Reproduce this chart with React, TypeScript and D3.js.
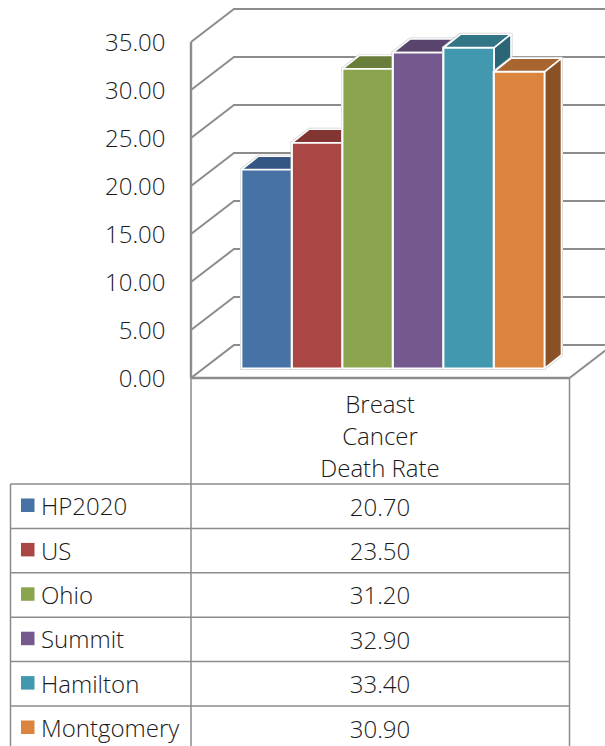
import React from 'react';
import * as d3 from 'd3';

const seriesNames = ['HP2020', 'US', 'Ohio', 'Summit', 'Hamilton', 'Montgomery'];
const seriesValues = [20.7, 23.5, 31.2, 32.9, 33.4, 30.9];
const frontColors = ['#4672a6', '#aa4643', '#8aa54e', '#73598e', '#4198af', '#db843d'];
const topColors = ['#355682', '#823533', '#6a7e3b', '#58446d', '#327586', '#a86530'];
const sideColors = ['#2e4b72', '#722e2c', '#5d6e34', '#4d3b5f', '#2b6676', '#8a5127'];
const yTicks = [0, 5, 10, 15, 20, 25, 30, 35];
const categoryLines = ['Breast', 'Cancer', 'Death Rate'];

const W = 605;
const H = 746;
const FONT = '"Open Sans", Lato, sans-serif';
const GRID = '#8c8c8c';
const TEXT = '#1a1a1a';
const FONT_SIZE = 24;

// front edge of the wall, the back wall sits up and to the right of it
const y = d3.scaleLinear().domain([0, 35]).range([378, 42]);
const wallDx = 43;
const wallDy = -33;
const frontLeft = 191;
const frontRight = 569.5;

// bars stand on the floor, a bit behind the front edge
const barBase = -9.6;
const barDx = 17;
const barDy = -13.5;
const x = d3.scaleBand().domain(seriesNames).range([241.5, 544.5]).padding(0);

const rowY = d3.scaleLinear().domain([0, 1]).range([484, 528.4]);

const poly = d3.line();

const App = () => {
  const bw = x.bandwidth();
  return (
    <svg width={W} height={H} style={{ position: 'absolute', left: 0, top: 0 }} fontFamily={FONT}>
      <rect width={W} height={H} fill="#fff" />

      {/* walls */}
      {yTicks.map(t => (
        <g key={t} fill="none" stroke={GRID} strokeWidth={t === 0 ? 2.2 : 2}>
          <path d={poly([[frontLeft, y(t)], [frontLeft + wallDx, y(t) + wallDy], [W + 5, y(t) + wallDy]]) as string} />
        </g>
      ))}
      <line x1={frontLeft} x2={frontLeft} y1={y(35)} y2={y(0)} stroke={GRID} strokeWidth={2.4} />
      <line x1={frontLeft} x2={frontRight} y1={y(0)} y2={y(0)} stroke={GRID} strokeWidth={2.4} />
      <line x1={frontRight} x2={frontRight + wallDx} y1={y(0)} y2={y(0) + wallDy} stroke={GRID} strokeWidth={2} />

      {/* bars, painted left to right so each front hides the previous side */}
      {seriesNames.map((name, i) => {
        const x0 = x(name) as number;
        const x1 = x0 + bw;
        const top = y(seriesValues[i]) + barBase;
        const base = y(0) + barBase;
        const front = `M${x0},${top}H${x1}V${base}H${x0}Z`;
        const roof = poly([[x0, top], [x0 + barDx, top + barDy], [x1 + barDx, top + barDy], [x1, top]]) + 'Z';
        const side = poly([[x1, top], [x1 + barDx, top + barDy], [x1 + barDx, base + barDy], [x1, base]]) + 'Z';
        return (
          <g key={name} strokeLinejoin="round">
            <g fill="none" stroke="#cfcfcf" strokeWidth={3}>
              <path d={roof} />
              <path d={side} />
              <path d={front} />
            </g>
            <path d={roof} fill={topColors[i]} stroke="#fff" strokeWidth={1.6} />
            <path d={side} fill={sideColors[i]} stroke="#fff" strokeWidth={1.6} />
            <path d={front} fill={frontColors[i]} stroke="#fff" strokeWidth={1.8} />
          </g>
        );
      })}

      {/* value axis labels */}
      {yTicks.map(t => (
        <text key={t} x={165.5} y={y(t) + 0.6} dy="0.36em" textAnchor="end" fontSize={FONT_SIZE} fontWeight={300} fill={TEXT}>
          {d3.format('.2f')(t)}
        </text>
      ))}

      {/* data table */}
      <g stroke={GRID} strokeWidth={1.5}>
        <line x1={frontLeft} x2={frontLeft} y1={y(0)} y2={H} />
        <line x1={frontRight} x2={frontRight} y1={y(0)} y2={H} />
        <line x1={10.5} x2={10.5} y1={rowY(0)} y2={H} />
        {seriesNames.map((name, i) => (
          <line key={name} x1={10.5} x2={frontRight} y1={rowY(i)} y2={rowY(i)} />
        ))}
      </g>

      {categoryLines.map((line, i) => (
        <text key={line} x={380} y={404 + i * 32} dy="0.36em" textAnchor="middle" fontSize={FONT_SIZE} fontWeight={300} fill={TEXT}>
          {line}
        </text>
      ))}

      {seriesNames.map((name, i) => (
        <g key={name}>
          <rect x={21} y={rowY(i) + 14.5} width={13.5} height={13.5} fill={frontColors[i]} />
          <text x={41} y={rowY(i) + 22.5} dy="0.36em" fontSize={FONT_SIZE} fontWeight={300} fill={TEXT}>
            {name}
          </text>
          <text x={380} y={rowY(i) + 23} dy="0.36em" textAnchor="middle" fontSize={FONT_SIZE} fontWeight={300} fill={TEXT}>
            {d3.format('.2f')(seriesValues[i])}
          </text>
        </g>
      ))}
    </svg>
  );
};

export default App;
